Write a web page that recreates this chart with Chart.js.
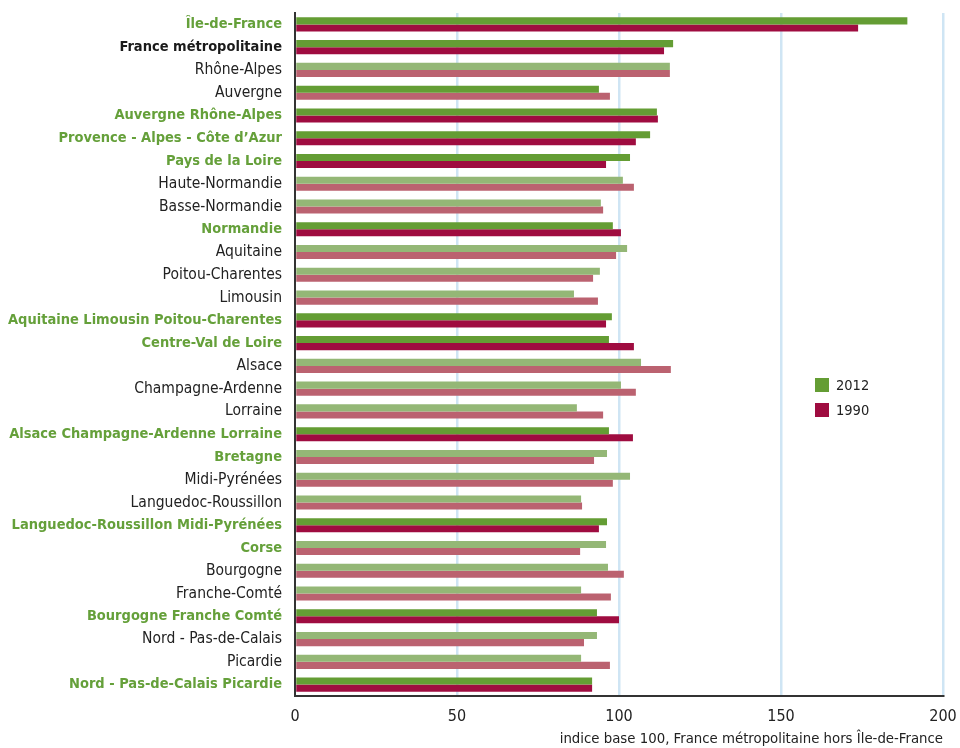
<!DOCTYPE html>
<html>
<head>
<meta charset="utf-8">
<script src="https://cdn.jsdelivr.net/npm/chart.js@4"></script>
<style>
  html, body { margin: 0; padding: 0; background: #fff; }
  #wrap { position: relative; width: 960px; height: 748px; }
  #legend { position: absolute; left: 815px; top: 372px; font-family: 'Liberation Sans Narrow', 'DejaVu Sans Condensed', sans-serif; font-size: 14.5px; color: #222; }
  #legend div { display: flex; align-items: center; height: 25px; }
  #legend span.sw { display: inline-block; width: 14px; height: 14px; margin-right: 7px; }
</style>
</head>
<body>
<div id="wrap">
  <canvas id="c" width="960" height="748"></canvas>
  <div id="legend"></div>
</div>
<script>
const categories = [
  "Île-de-France", "France métropolitaine", "Rhône-Alpes", "Auvergne", "Auvergne Rhône-Alpes",
  "Provence - Alpes - Côte d’Azur", "Pays de la Loire", "Haute-Normandie", "Basse-Normandie", "Normandie",
  "Aquitaine", "Poitou-Charentes", "Limousin", "Aquitaine Limousin Poitou-Charentes", "Centre-Val de Loire",
  "Alsace", "Champagne-Ardenne", "Lorraine", "Alsace Champagne-Ardenne Lorraine", "Bretagne",
  "Midi-Pyrénées", "Languedoc-Roussillon", "Languedoc-Roussillon Midi-Pyrénées", "Corse", "Bourgogne",
  "Franche-Comté", "Bourgogne Franche Comté", "Nord - Pas-de-Calais", "Picardie", "Nord - Pas-de-Calais Picardie"
];
const values2012 = [
  189, 116.7, 115.7, 93.8, 111.7,
  109.6, 103.4, 101.2, 94.4, 98.1,
  102.5, 94.1, 86.1, 97.8, 96.9,
  106.8, 100.6, 87.0, 96.9, 96.3,
  103.4, 88.3, 96.3, 96.0, 96.6,
  88.3, 93.2, 93.2, 88.3, 91.7
];
const values1990 = [
  173.8, 113.9, 115.7, 97.2, 112.0,
  105.2, 96.0, 104.6, 95.1, 100.6,
  99.1, 92.0, 93.5, 96.0, 104.6,
  116.0, 105.2, 95.1, 104.3, 92.3,
  98.1, 88.6, 93.8, 88.0, 101.5,
  97.5, 100.0, 89.2, 97.2, 91.7
];
// label type: 'new' (region 2016, green bold), 'nat' (black bold), 'old' (regular)
const labelTypes = [
  "new", "nat", "old", "old", "new",
  "new", "new", "old", "old", "new",
  "old", "old", "old", "new", "new",
  "old", "old", "old", "new", "new",
  "old", "old", "new", "new", "old",
  "old", "new", "old", "old", "new"
];
// bar shade: 'd' dark, 'l' light
const shade2012 = [
  "d","d","l","d","d",
  "d","d","l","l","d",
  "l","l","l","d","d",
  "l","l","l","d","l",
  "l","l","d","l","l",
  "l","d","l","l","d"
];
const shade1990 = [
  "d","d","l","l","d",
  "d","d","l","l","d",
  "l","l","l","d","d",
  "l","l","l","d","l",
  "l","l","d","l","l",
  "l","d","l","l","d"
];
const seriesNames = ["2012", "1990"];
const xTicks = [0, 50, 100, 150, 200];
const axisTitle = "indice base 100, France métropolitaine hors Île-de-France";

const GREEN_D = "#649d34", GREEN_L = "#94b776";
const RED_D = "#9f0c40", RED_L = "#bb6270";
const FONT = "'Liberation Sans Narrow', 'DejaVu Sans Condensed', sans-serif";

const chart = new Chart(document.getElementById('c'), {
  type: 'bar',
  data: {
    labels: categories,
    datasets: [
      { label: seriesNames[0], data: values2012,
        backgroundColor: shade2012.map(s => s === 'd' ? GREEN_D : GREEN_L) },
      { label: seriesNames[1], data: values1990,
        backgroundColor: shade1990.map(s => s === 'd' ? RED_D : RED_L) }
    ]
  },
  options: {
    indexAxis: 'y',
    responsive: false,
    animation: false,
    devicePixelRatio: 1,
    layout: { padding: { top: 13, right: 17, left: 0, bottom: 0 } },
    datasets: { bar: { categoryPercentage: 0.62, barPercentage: 1.0, borderWidth: 0 } },
    plugins: { legend: { display: false }, tooltip: { enabled: false } },
    scales: {
      x: {
        min: 0, max: 200,
        afterBuildTicks: (s) => { s.ticks = xTicks.map(v => ({ value: v })); },
        afterFit: (s) => { s.height = 52; s.paddingLeft = 0; s.paddingRight = 0; },
        grid: { color: (ctx) => ctx.tick && ctx.tick.value === 0 ? 'rgba(0,0,0,0)' : '#cfe5f4', lineWidth: 2.5, drawTicks: false },
        border: { color: '#333', width: 2 },
        ticks: { color: '#222', font: { family: FONT, size: 16 }, padding: 11 },
        title: { display: true, text: axisTitle, align: 'end', color: '#222', font: { family: FONT, size: 14.8 }, padding: { top: 2, bottom: 0 } }
      },
      y: {
        afterFit: (s) => { s.width = 295; s.paddingTop = 0; s.paddingBottom = 0; },
        grid: { display: false, drawTicks: false },
        border: { color: '#333', width: 2 },
        ticks: {
          autoSkip: false,
          padding: 13,
          color: (ctx) => labelTypes[ctx.index] === 'new' ? '#65a03a' : (labelTypes[ctx.index] === 'nat' ? '#1a1a1a' : '#222'),
          font: (ctx) => ({ family: FONT, size: labelTypes[ctx.index] === 'old' ? 15.5 : 14.5, weight: labelTypes[ctx.index] === 'old' ? 'normal' : 'bold' })
        }
      }
    }
  }
});

// HTML legend built from dataset data
const lg = document.getElementById('legend');
chart.data.datasets.forEach((ds, i) => {
  const row = document.createElement('div');
  const sw = document.createElement('span');
  sw.className = 'sw';
  sw.style.background = i === 0 ? GREEN_D : RED_D;
  row.appendChild(sw);
  row.appendChild(document.createTextNode(ds.label));
  lg.appendChild(row);
});
</script>
</body>
</html>
